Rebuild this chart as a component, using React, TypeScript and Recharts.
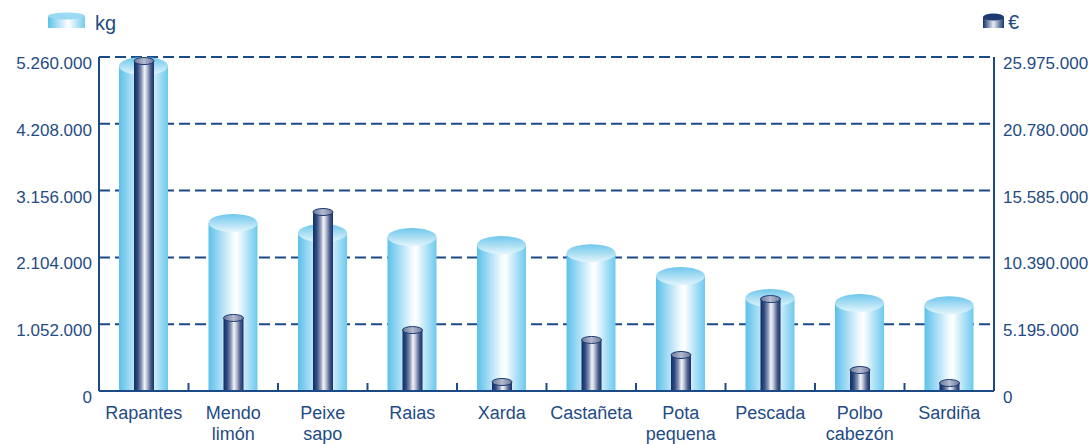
import React from 'react';
import { BarChart, Bar, XAxis, YAxis, CartesianGrid } from 'recharts';

// species (\n = second line of the label)
const categories = [
  'Rapantes',
  'Mendo\nlimón',
  'Peixe\nsapo',
  'Raias',
  'Xarda',
  'Castañeta',
  'Pota\npequena',
  'Pescada',
  'Polbo\ncabezón',
  'Sardiña',
];

// landed weight, kg (left axis)
const kgValues = [5118000, 2646000, 2488000, 2425000, 2300000, 2170000, 1810000, 1465000, 1385000, 1350000];

// first sale value, € (right axis)
const euroValues = [25660000, 5680000, 13920000, 4740000, 700000, 3970000, 2800000, 7150000, 1630000, 620000];

const kgTicks = [0, 1052000, 2104000, 3156000, 4208000, 5260000];
const euroTicks = [0, 5195000, 10390000, 15585000, 20780000, 25975000];

const data = categories.map((name, i) => ({ name, kg: kgValues[i], euro: euroValues[i] }));

const NAVY = '#1b4a86';
const TEXT = '#1f4c85';
const FONT = '"Liberation Sans", Arial, Helvetica, sans-serif';
const X_TICK_MARGIN = 13;

const fmt = (v: number) => String(v).replace(/\B(?=(\d{3})+(?!\d))/g, '.');

const Cylinder = (props: any) => {
  const { x, y, width, height, big } = props;
  if (!width || height == null) return null;
  const rx = width / 2;
  const ry = big ? 9 : 3.5;
  const cx = x + rx;
  return (
    <g>
      <rect x={x} y={y} width={width} height={Math.max(height, 0)} fill={big ? 'url(#kgBody)' : 'url(#euBody)'} />
      <ellipse
        cx={cx}
        cy={y}
        rx={rx}
        ry={ry}
        fill={big ? 'url(#kgTop)' : 'url(#euTop)'}
        stroke={big ? 'none' : '#1d3b70'}
        strokeWidth={big ? 0 : 1}
      />
    </g>
  );
};

const CatTick = (props: any) => {
  const { x, y, payload, index } = props;
  const lines = String(payload.value).split('\n');
  const half = payload.offset ?? 0;
  const axisY = y - X_TICK_MARGIN;
  return (
    <g>
      {index < categories.length - 1 && (
        <line x1={x + half} x2={x + half} y1={axisY} y2={axisY - 8} stroke={NAVY} strokeWidth={2} />
      )}
      <text x={x} y={y + 15} textAnchor="middle" fill={TEXT} fontSize={18} fontFamily={FONT}>
        {lines.map((l, i) => (
          <tspan key={i} x={x} dy={i === 0 ? 0 : 21}>
            {l}
          </tspan>
        ))}
      </text>
    </g>
  );
};

const YTick = (props: any) => {
  const { x, y, payload, textAnchor } = props;
  return (
    <text x={x} y={y + 12} textAnchor={textAnchor} fill={TEXT} fontSize={17} fontFamily={FONT}>
      {fmt(payload.value)}
    </text>
  );
};

const LegendIcons = () => (
  <svg width={1092} height={40} style={{ position: 'absolute', left: 0, top: 0 }}>
    <defs>
      <linearGradient id="lgKgBody" x1="0" y1="0" x2="1" y2="0">
        <stop offset="0%" stopColor="#5fc2ea" />
        <stop offset="55%" stopColor="#ffffff" />
        <stop offset="100%" stopColor="#74cbee" />
      </linearGradient>
      <linearGradient id="lgEuBody" x1="0" y1="0" x2="1" y2="0">
        <stop offset="0%" stopColor="#102f66" />
        <stop offset="50%" stopColor="#e9ecf3" />
        <stop offset="100%" stopColor="#16366c" />
      </linearGradient>
    </defs>
    <rect x={48} y={16} width={37} height={12} fill="url(#lgKgBody)" />
    <ellipse cx={66.5} cy={16} rx={18.5} ry={3.5} fill="#9bdaf4" />
    <text x={95} y={30} fill={TEXT} fontSize={20} fontFamily={FONT}>kg</text>
    <rect x={983} y={17} width={21} height={11} fill="url(#lgEuBody)" />
    <ellipse cx={993.5} cy={17} rx={10.5} ry={3.5} fill="#1d3b70" />
    <text x={1008} y={29} fill={TEXT} fontSize={20} fontFamily={FONT}>€</text>
  </svg>
);

export default function App() {
  return (
    <div style={{ position: 'relative', width: 1092, height: 444, fontFamily: FONT }}>
      <style>{'body{margin:0;background:#fff}'}</style>
      <LegendIcons />
      <BarChart width={1092} height={444} data={data} margin={{ top: 57, right: 0, left: 0, bottom: 0 }}>
        <defs>
          <linearGradient id="kgBody" x1="0" y1="0" x2="1" y2="0">
            <stop offset="0%" stopColor="#5bc0ea" />
            <stop offset="22%" stopColor="#9fdaf4" />
            <stop offset="50%" stopColor="#f2fafe" />
            <stop offset="58%" stopColor="#ffffff" />
            <stop offset="82%" stopColor="#a9dff5" />
            <stop offset="100%" stopColor="#6ccaee" />
          </linearGradient>
          <linearGradient id="kgTop" x1="0" y1="0" x2="0" y2="1">
            <stop offset="0%" stopColor="#6fc7ec" />
            <stop offset="100%" stopColor="#e3f5fc" />
          </linearGradient>
          <linearGradient id="euBody" x1="0" y1="0" x2="1" y2="0">
            <stop offset="0%" stopColor="#0f2e65" />
            <stop offset="18%" stopColor="#2f4b80" />
            <stop offset="38%" stopColor="#8f99b8" />
            <stop offset="52%" stopColor="#f3f4f8" />
            <stop offset="64%" stopColor="#c3c8d8" />
            <stop offset="84%" stopColor="#4a5b8b" />
            <stop offset="100%" stopColor="#12326a" />
          </linearGradient>
          <linearGradient id="euTop" x1="0" y1="0" x2="1" y2="0">
            <stop offset="0%" stopColor="#6b769a" />
            <stop offset="50%" stopColor="#b4bbd0" />
            <stop offset="100%" stopColor="#6b769a" />
          </linearGradient>
        </defs>
        <CartesianGrid
          yAxisId="left"
          xAxisId="a"
          vertical={false}
          horizontalValues={kgTicks.slice(1)}
          stroke={NAVY}
          strokeWidth={2}
          strokeDasharray="11 5"
        />
        <XAxis
          xAxisId="a"
          dataKey="name"
          height={53}
          interval={0}
          stroke={NAVY}
          strokeWidth={2}
          tickLine={false}
          tickSize={0}
          tickMargin={X_TICK_MARGIN}
          tick={<CatTick />}
        />
        <XAxis xAxisId="b" dataKey="name" hide />
        <YAxis
          yAxisId="left"
          width={99}
          domain={[0, 5260000]}
          ticks={kgTicks}
          interval={0}
          stroke={NAVY}
          strokeWidth={2}
          tickLine={false}
          tickSize={0}
          tickMargin={7}
          tick={<YTick />}
        />
        <YAxis
          yAxisId="right"
          orientation="right"
          width={98}
          domain={[0, 25975000]}
          ticks={euroTicks}
          interval={0}
          stroke={NAVY}
          strokeWidth={2}
          tickLine={false}
          tickSize={0}
          tickMargin={9}
          tick={<YTick />}
        />
        <Bar
          xAxisId="a"
          yAxisId="left"
          dataKey="kg"
          barSize={49}
          isAnimationActive={false}
          shape={(p: any) => <Cylinder {...p} big />}
        />
        <Bar
          xAxisId="b"
          yAxisId="right"
          dataKey="euro"
          barSize={20}
          isAnimationActive={false}
          shape={(p: any) => <Cylinder {...p} />}
        />
      </BarChart>
    </div>
  );
}
